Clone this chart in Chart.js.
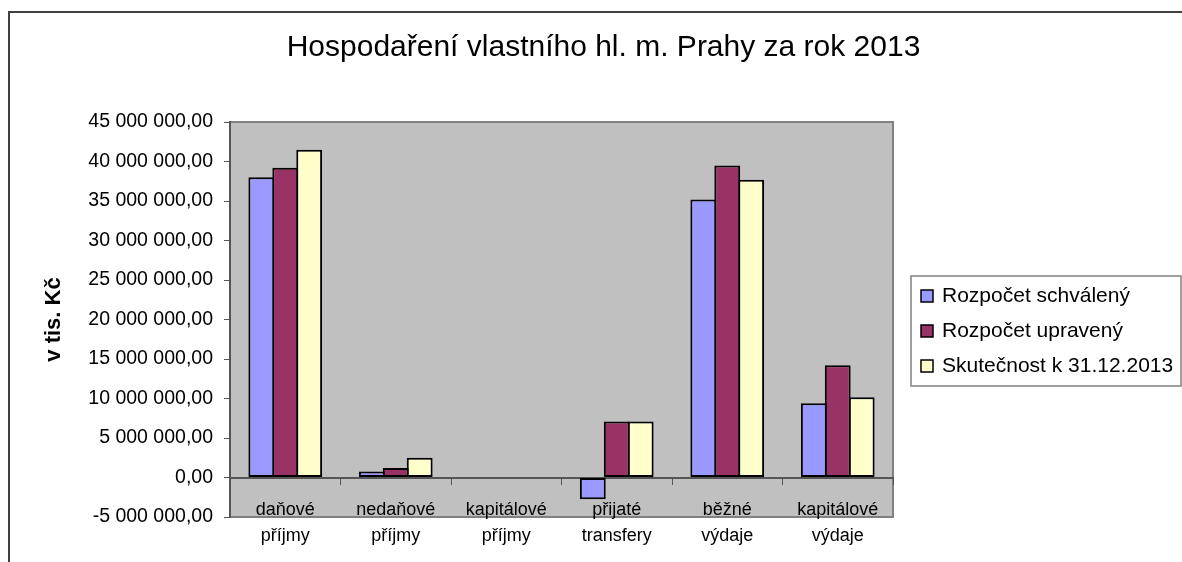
<!DOCTYPE html>
<html lang="cs">
<head>
<meta charset="utf-8">
<title>Hospodaření vlastního hl. m. Prahy za rok 2013</title>
<script src="https://cdn.jsdelivr.net/npm/chart.js@4/dist/chart.umd.min.js"></script>
<style>
    html, body { margin: 0; padding: 0; background: #fff; }
    #wrap { position: relative; width: 1182px; height: 562px; }
</style>
</head>
<body>
<div id="wrap"><canvas id="chart"></canvas></div>
<script>
// Data (v tis. Kč)
const categories = ['daňové příjmy', 'nedaňové příjmy', 'kapitálové příjmy', 'přijaté transfery', 'běžné výdaje', 'kapitálové výdaje'];
const seriesNames = ['Rozpočet schválený', 'Rozpočet upravený', 'Skutečnost k 31.12.2013'];
const schvaleny = [38000000, 750000, 0, -2750000, 35200000, 9400000];
const upraveny = [39200000, 1200000, 0, 7100000, 39500000, 14200000];
const skutecnost = [41500000, 2500000, 0, 7100000, 37700000, 10150000];
const seriesColors = ['#9999FF', '#993366', '#FFFFCC'];
const yMin = -5000000;
const yMax = 45000000;
const yStep = 5000000;

const FONT = '"Liberation Sans", Arial, sans-serif';

// 45000000 -> "45 000 000,00"
function formatNumber(value) {
    const parts = Math.abs(value).toFixed(2).split('.');
    const whole = parts[0].replace(/\B(?=(\d{3})+(?!\d))/g, ' ');
    return (value < 0 ? '-' : '') + whole + ',' + parts[1];
}

// Gray plot area with its frame, plus the outer chart frame
const plotBackground = {
    id: 'plotBackground',
    beforeDraw(chart) {
        const { ctx, chartArea: a } = chart;
        ctx.save();
        ctx.strokeStyle = '#404040';
        ctx.lineWidth = 2;
        ctx.strokeRect(9, 12, 1400, 800);
        ctx.fillStyle = '#C0C0C0';
        ctx.fillRect(a.left, a.top, a.right - a.left, a.bottom - a.top);
        ctx.strokeStyle = '#808080';
        ctx.lineWidth = 2;
        ctx.beginPath();
        ctx.moveTo(a.left, a.top);
        ctx.lineTo(a.right, a.top);
        ctx.lineTo(a.right, a.bottom);
        ctx.lineTo(a.left, a.bottom);
        ctx.stroke();
        ctx.restore();
    }
};

// Boxed legend to the right of the plot
const boxedLegend = {
    id: 'boxedLegend',
    afterDraw(chart) {
        const { ctx, chartArea: a } = chart;
        const left = a.right + 18;
        const top = a.top + 154;
        const rowHeight = 35;
        ctx.save();
        ctx.strokeStyle = '#808080';
        ctx.lineWidth = 1.5;
        ctx.strokeRect(left, top, 270, 110);
        ctx.font = '21px ' + FONT;
        ctx.textBaseline = 'middle';
        ctx.textAlign = 'left';
        chart.data.datasets.forEach((ds, i) => {
            const cy = top + 20 + i * rowHeight;
            ctx.fillStyle = ds.backgroundColor;
            ctx.fillRect(left + 10, cy - 6, 12, 12);
            ctx.strokeStyle = '#000';
            ctx.lineWidth = 1.5;
            ctx.strokeRect(left + 10, cy - 6, 12, 12);
            ctx.fillStyle = '#000';
            ctx.fillText(ds.label, left + 31, cy);
        });
        ctx.restore();
    }
};

const seriesValues = [schvaleny, upraveny, skutecnost];

const chart = new Chart(document.getElementById('chart').getContext('2d'), {
    type: 'bar',
    data: {
        labels: categories.map(c => c.split(' ')),
        datasets: seriesNames.map((name, i) => ({
            label: name,
            data: seriesValues[i],
            backgroundColor: seriesColors[i],
            borderColor: '#000',
            borderWidth: 2,
            borderSkipped: false,
            // slight overlap so neighbouring bars share one border line
            categoryPercentage: 0.65,
            barPercentage: 1.08
        }))
    },
    options: {
        responsive: true,
        maintainAspectRatio: false,
        animation: false,
        layout: {
            padding: { left: 25, top: 0, right: 0, bottom: 45 }
        },
        plugins: {
            legend: { display: false },
            tooltip: { enabled: false },
            title: {
                display: true,
                text: 'Hospodaření vlastního hl. m. Prahy za rok 2013',
                color: '#000',
                font: { family: FONT, size: 30, weight: 'normal' },
                padding: { top: 30, bottom: 56 }
            }
        },
        scales: {
            x: {
                position: { y: 0 },
                offset: true,
                grid: {
                    offset: true,
                    drawOnChartArea: false,
                    drawTicks: true,
                    tickLength: 6,
                    color: '#555'
                },
                border: { display: true, color: '#555', width: 2 },
                ticks: {
                    color: '#000',
                    autoSkip: false,
                    maxRotation: 0,
                    padding: 13,
                    font: { family: FONT, size: 18, lineHeight: 1.45 }
                }
            },
            y: {
                position: 'left',
                min: yMin,
                max: yMax,
                afterFit(scale) { scale.width = 205; },
                grid: {
                    drawOnChartArea: false,
                    drawTicks: true,
                    tickLength: 6,
                    color: '#555'
                },
                border: { display: true, color: '#555', width: 2 },
                ticks: {
                    stepSize: yStep,
                    color: '#000',
                    padding: 11,
                    font: { family: FONT, size: 19.5 },
                    callback: value => formatNumber(value)
                },
                title: {
                    display: true,
                    text: 'v tis. Kč',
                    color: '#000',
                    font: { family: FONT, size: 22, weight: 'bold' },
                    padding: { top: 16, bottom: 0 }
                }
            },
            // keeps room on the right for the boxed legend
            legendRoom: {
                type: 'linear',
                axis: 'y',
                position: 'right',
                display: true,
                afterFit(scale) { scale.width = 289; },
                grid: { display: false, drawTicks: false },
                border: { display: false },
                ticks: { display: false }
            }
        }
    },
    plugins: [plotBackground, boxedLegend]
});
</script>
</body>
</html>
